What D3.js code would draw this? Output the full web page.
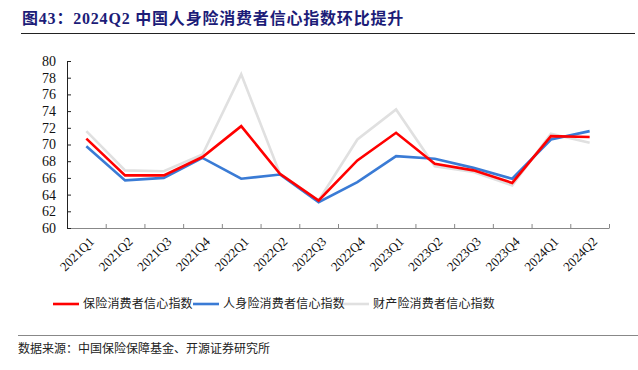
<!DOCTYPE html>
<html>
<head>
<meta charset="utf-8">
<script src="https://cdn.jsdelivr.net/npm/d3@7/dist/d3.min.js"></script>
<style>
  body { margin: 0; background: #fff; }
  svg { display: block; }
</style>
</head>
<body>
<svg width="638" height="370"></svg>
<script>
var quarters = ["2021Q1","2021Q2","2021Q3","2021Q4","2022Q1","2022Q2","2022Q3","2022Q4",
                "2023Q1","2023Q2","2023Q3","2023Q4","2024Q1","2024Q2"];
var insurance = [70.7, 66.3, 66.3, 68.5, 72.2, 66.5, 63.3, 68.1, 71.4, 67.7, 66.9, 65.4, 71.0, 70.9];
var life      = [69.8, 65.7, 66.0, 68.4, 65.9, 66.4, 63.1, 65.5, 68.6, 68.3, 67.2, 65.9, 70.6, 71.6];
var property  = [71.6, 66.9, 66.8, 68.8, 78.4, 66.5, 63.3, 70.6, 74.2, 67.4, 66.7, 65.1, 71.3, 70.2];
var yTicks = [60, 62, 64, 66, 68, 70, 72, 74, 76, 78, 80];

var series = [
  {name: "保险消费者信心指数", values: insurance, color: "#ff0000"},
  {name: "人身险消费者信心指数", values: life, color: "#3a7bd5"},
  {name: "财产险消费者信心指数", values: property, color: "#e0e0e0"}
];

var svg = d3.select("svg"),
    margin = {top: 61, right: 29, bottom: 142, left: 67},
    width = 638 - margin.left - margin.right,
    height = 370 - margin.top - margin.bottom,
    g = svg.append("g").attr("transform", "translate(" + margin.left + "," + margin.top + ")");

// title
svg.append("text")
    .attr("x", 22)
    .attr("y", 24)
    .attr("fill", "#1c1c78")
    .attr("font-size", 16)
    .attr("font-weight", "bold")
    .attr("letter-spacing", 0.8)
    .attr("font-family", "'Liberation Serif', 'Noto Sans CJK SC', serif")
    .text("图43：2024Q2 中国人身险消费者信心指数环比提升");

svg.append("line")
    .attr("x1", 21).attr("x2", 635)
    .attr("y1", 33.5).attr("y2", 33.5)
    .attr("stroke", "#222").attr("stroke-width", 1.2);

var x = d3.scaleBand()
    .domain(quarters)
    .range([0, width]);

var y = d3.scaleLinear()
    .domain([60, 80])
    .range([height, 0]);

// x axis
var xAxis = g.append("g")
    .attr("transform", "translate(0," + height + ")")
    .call(d3.axisBottom(x).tickSize(0).tickFormat(""));
xAxis.select(".domain").attr("stroke", "#888");

g.append("g")
    .selectAll("line")
    .data(d3.range(quarters.length + 1))
    .enter().append("line")
    .attr("x1", function(i) { return i * x.bandwidth() + 0.5; })
    .attr("x2", function(i) { return i * x.bandwidth() + 0.5; })
    .attr("y1", height).attr("y2", height - 4)
    .attr("stroke", "#888");

g.append("g")
    .selectAll("text")
    .data(quarters)
    .enter().append("text")
    .attr("transform", function(d) {
        return "translate(" + (x(d) + x.bandwidth() / 2 + 2) + "," + (height + 8) + ") rotate(-45)";
    })
    .attr("text-anchor", "end")
    .attr("dy", "0.7em")
    .attr("font-family", "'Liberation Serif', serif")
    .attr("font-size", 13)
    .attr("fill", "#111")
    .text(function(d) { return d; });

// y axis
var yAxis = g.append("g")
    .call(d3.axisLeft(y).tickValues(yTicks).tickSizeInner(-4).tickSizeOuter(0).tickPadding(11));
yAxis.select(".domain").attr("stroke", "#222");
yAxis.selectAll(".tick line").attr("stroke", "#222");
yAxis.selectAll(".tick text")
    .attr("font-family", "'Liberation Serif', serif")
    .attr("font-size", 14)
    .attr("fill", "#111");

// lines
var line = d3.line()
    .x(function(d, i) { return x(quarters[i]) + x.bandwidth() / 2; })
    .y(function(d) { return y(d); });

g.selectAll(".series")
    .data(series.slice().reverse())
    .enter().append("path")
    .attr("class", "series")
    .attr("fill", "none")
    .attr("stroke", function(d) { return d.color; })
    .attr("stroke-width", 2.6)
    .attr("d", function(d) { return line(d.values); });

// legend
var legendX = [53, 193, 343];
var legend = svg.append("g")
    .selectAll("g")
    .data(series)
    .enter().append("g")
    .attr("transform", function(d, i) { return "translate(" + legendX[i] + ",304)"; });

legend.append("line")
    .attr("x1", 0).attr("x2", 26)
    .attr("stroke", function(d) { return d.color; })
    .attr("stroke-width", 2.6);

legend.append("text")
    .attr("x", 30)
    .attr("dy", "0.35em")
    .attr("font-family", "'Noto Sans CJK SC', sans-serif")
    .attr("font-size", 12)
    .attr("letter-spacing", 0.2)
    .attr("fill", "#222")
    .text(function(d) { return d.name; });

// source
svg.append("line")
    .attr("x1", 18).attr("x2", 638)
    .attr("y1", 335.5).attr("y2", 335.5)
    .attr("stroke", "#888").attr("stroke-width", 1.2);

svg.append("text")
    .attr("x", 18)
    .attr("y", 353)
    .attr("font-family", "'Noto Sans CJK SC', sans-serif")
    .attr("font-size", 12)
    .attr("fill", "#222")
    .text("数据来源：中国保险保障基金、开源证券研究所");
</script>
</body>
</html>
